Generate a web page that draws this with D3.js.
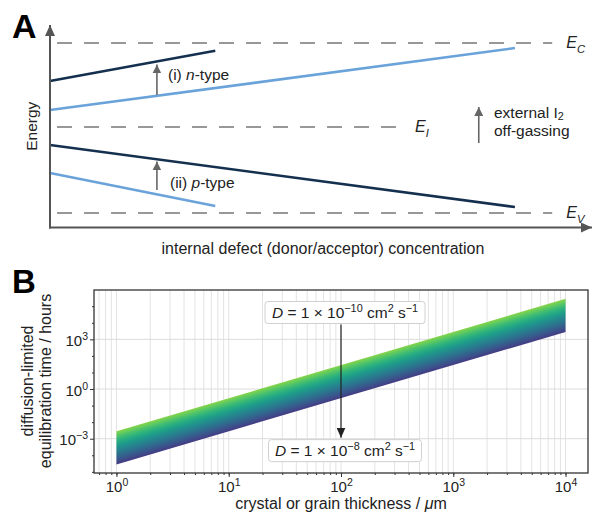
<!DOCTYPE html>
<html>
<head>
<meta charset="utf-8">
<script src="https://cdn.jsdelivr.net/npm/d3@7"></script>
<style>
  html, body { margin: 0; padding: 0; background: #fff; }
  svg { display: block; font-family: "Liberation Sans", Arial, Helvetica, sans-serif; }
</style>
</head>
<body>
<svg id="chart" width="594" height="514"></svg>
<script>
// ---- panel A : schematic band diagram (arbitrary units 0..100) ----
const levelNames = ["C", "I", "V"];
const levelEnergy = [91.1, 49.6, 7.2];
const levelLabelConc = [95.6, 67.6, 95.6];
const levelDashEnd = [93.0, 64.8, 93.0];
const dashStart = 1.3;

const lineNames = ["n-type dark", "n-type light", "p-type dark", "p-type light"];
const lineConcStart = [0, 0, 0, 0];
const lineConcEnd = [30.6, 86.1, 86.1, 30.6];
const lineEnergyStart = [72.3, 58.0, 40.7, 26.9];
const lineEnergyEnd = [87.3, 88.6, 10.1, 10.6];
const lineColor = ["#15304f", "#6aa3da", "#15304f", "#6aa3da"];

// ---- panel B : equilibration time vs thickness ----
const thickness = [1, 10000]; // µm
const timeSlowD = [2.8e-3, 2.8e5]; // hours, D = 1e-10 cm2/s
const timeFastD = [2.8e-5, 2.8e3]; // hours, D = 1e-8 cm2/s
const xTicksB = [1, 10, 100, 1000, 10000];
const yTicksB = [1e-3, 1, 1e3];
const yMinorB = [1e-5, 1e-4, 1e-2, 1e-1, 10, 100, 1e4, 1e5];

const FS = 15.5; // main text size

const svg = d3.select("#chart");
const defs = svg.append("defs");

function marker(id, color, w, l) {
  defs.append("marker")
    .attr("id", id)
    .attr("viewBox", `0 0 ${l} ${w}`)
    .attr("refX", l).attr("refY", w / 2)
    .attr("markerUnits", "userSpaceOnUse")
    .attr("markerWidth", l).attr("markerHeight", w)
    .attr("orient", "auto")
    .append("path")
    .attr("d", `M0,0 L${l},${w / 2} L0,${w} Z`)
    .attr("fill", color);
}
marker("headAxis", "#555", 10, 11);
marker("headGray", "#666", 9, 9);
marker("headBlack", "#222", 9, 10);

// append text with superscript / subscript parts: parts = [[text, "n"|"sup"|"sub"|"it"], ...]
function richText(sel, parts, size, subShift = 0.3) {
  let shift = 0;
  parts.forEach(([t, kind]) => {
    const ts = sel.append("tspan").text(t);
    let target = 0;
    if (kind === "sup") target = -size * 0.4;
    if (kind === "sub") target = size * subShift;
    ts.attr("dy", target - shift);
    shift = target;
    if (kind === "sup" || kind === "sub") ts.attr("font-size", size * 0.7);
    if (kind === "it") ts.attr("font-style", "italic");
  });
}

// ================= PANEL A =================
const xA = d3.scaleLinear().domain([0, 100]).range([50, 590]);
const yA = d3.scaleLinear().domain([0, 100]).range([227.5, 25]);
const gA = svg.append("g");

svg.append("text").attr("x", 12).attr("y", 38)
  .attr("font-size", 34).attr("font-weight", "bold").text("A");

// dashed band levels
levelNames.forEach((name, i) => {
  gA.append("line")
    .attr("x1", xA(dashStart)).attr("x2", xA(levelDashEnd[i]))
    .attr("y1", yA(levelEnergy[i])).attr("y2", yA(levelEnergy[i]))
    .attr("stroke", "#777").attr("stroke-width", 1.5)
    .attr("stroke-dasharray", "15,12");
  const t = gA.append("text")
    .attr("x", xA(levelLabelConc[i])).attr("y", yA(levelEnergy[i]) + 5)
    .attr("font-size", 16).attr("fill", "#222");
  richText(t, [["E", "it"], [name, "sub"]], 16);
  t.select("tspan:last-child").attr("font-style", "italic");
});

// level lines
const lineGen = d3.line().x((d) => xA(d[0])).y((d) => yA(d[1]));
lineNames.forEach((name, i) => {
  gA.append("path")
    .datum([[lineConcStart[i], lineEnergyStart[i]], [lineConcEnd[i], lineEnergyEnd[i]]])
    .attr("d", lineGen)
    .attr("fill", "none")
    .attr("stroke", lineColor[i])
    .attr("stroke-width", 2.6);
});

// axes with arrow heads
gA.append("line")
  .attr("x1", xA(0)).attr("x2", xA(0))
  .attr("y1", yA(0) + 1).attr("y2", yA(100))
  .attr("stroke", "#555").attr("stroke-width", 2)
  .attr("marker-end", "url(#headAxis)");
gA.append("line")
  .attr("x1", xA(0) - 1).attr("x2", xA(100) + 2)
  .attr("y1", yA(0)).attr("y2", yA(0))
  .attr("stroke", "#555").attr("stroke-width", 2)
  .attr("marker-end", "url(#headAxis)");

// shift arrows
const arrowsA = [
  { conc: 19.8, from: 65.4, to: 80.5 },
  { conc: 19.8, from: 18.5, to: 32.6 },
  { conc: 79.4, from: 41.7, to: 59.5 }
];
arrowsA.forEach((a) => {
  gA.append("line")
    .attr("x1", xA(a.conc)).attr("x2", xA(a.conc))
    .attr("y1", yA(a.from)).attr("y2", yA(a.to))
    .attr("stroke", "#666").attr("stroke-width", 1.6)
    .attr("marker-end", "url(#headGray)");
});

const tn = gA.append("text").attr("x", 168).attr("y", 80).attr("font-size", FS).attr("fill", "#222");
richText(tn, [["(i) ", "n"], ["n", "it"], ["-type", "n"]], FS);
const tp = gA.append("text").attr("x", 170).attr("y", 188).attr("font-size", FS).attr("fill", "#222");
richText(tp, [["(ii) ", "n"], ["p", "it"], ["-type", "n"]], FS);
const te = gA.append("text").attr("x", 494).attr("y", 118).attr("font-size", FS).attr("fill", "#222");
richText(te, [["external I", "n"], ["2", "sub"]], FS, 0.15);
gA.append("text").attr("x", 494).attr("y", 136).attr("font-size", FS).attr("fill", "#222")
  .text("off-gassing");

gA.append("text")
  .attr("transform", `translate(37,${yA(50)}) rotate(-90)`)
  .attr("text-anchor", "middle").attr("font-size", FS).attr("fill", "#222")
  .text("Energy");
gA.append("text")
  .attr("x", 323).attr("y", 254)
  .attr("text-anchor", "middle").attr("font-size", 16).attr("fill", "#222")
  .text("internal defect (donor/acceptor) concentration");

// ================= PANEL B =================
const xB = d3.scaleLog().domain([Math.pow(10, -0.2), Math.pow(10, 4.2)]).range([94, 588]);
const yB = d3.scaleLog().domain([Math.pow(10, -5.07), Math.pow(10, 5.98)]).range([473, 290]);
const gB = svg.append("g");

svg.append("text").attr("x", 12).attr("y", 293)
  .attr("font-size", 33).attr("font-weight", "bold").text("B");

// grid
gB.append("g").selectAll("line")
  .data(xB.ticks())
  .join("line")
  .attr("x1", (d) => xB(d)).attr("x2", (d) => xB(d))
  .attr("y1", 290).attr("y2", 473)
  .attr("stroke", "#e3e3e3").attr("stroke-width", 1);
gB.append("g").selectAll("line")
  .data(yTicksB)
  .join("line")
  .attr("x1", 94).attr("x2", 588)
  .attr("y1", (d) => yB(d)).attr("y2", (d) => yB(d))
  .attr("stroke", "#dcdcdc").attr("stroke-width", 1);

// band, coloured perpendicular to the lines
const p0 = [xB(thickness[0]), yB(timeFastD[0])];
const p1 = [xB(thickness[1]), yB(timeFastD[1])];
const h = yB(timeFastD[0]) - yB(timeSlowD[0]);
const dx = p1[0] - p0[0], dy = p1[1] - p0[1];
const len = Math.hypot(dx, dy);
const nu = [dy / len, -dx / len];
const dist = (h * dx) / len;
const grad = defs.append("linearGradient")
  .attr("id", "bandGrad")
  .attr("gradientUnits", "userSpaceOnUse")
  .attr("x1", p0[0]).attr("y1", p0[1])
  .attr("x2", p0[0] + nu[0] * dist).attr("y2", p0[1] + nu[1] * dist);
grad.selectAll("stop")
  .data(d3.range(0, 1.0001, 0.1))
  .join("stop")
  .attr("offset", (d) => d)
  .attr("stop-color", (d) => d3.interpolateViridis(0.17 + d * 0.65));

const bandPts = thickness.map((t, i) => [xB(t), yB(timeSlowD[i])])
  .concat(thickness.map((t, i) => [xB(t), yB(timeFastD[i])]).reverse());
gB.append("path")
  .attr("d", "M" + bandPts.join("L") + "Z")
  .attr("fill", "url(#bandGrad)");

// frame
gB.append("rect")
  .attr("x", 94).attr("y", 290).attr("width", 494).attr("height", 183)
  .attr("fill", "none").attr("stroke", "#333").attr("stroke-width", 1.3);

// axes
const axX = gB.append("g").attr("transform", "translate(0,473)")
  .call(d3.axisBottom(xB).tickValues(xB.ticks()).tickSize(2).tickFormat(""));
axX.select(".domain").remove();
axX.selectAll("line").attr("stroke", "#333");
const axX2 = gB.append("g").attr("transform", "translate(0,473)")
  .call(d3.axisBottom(xB).tickValues(xTicksB).tickSize(4).tickPadding(3).tickFormat(""));
axX2.select(".domain").remove();
axX2.selectAll("line").attr("stroke", "#333");
axX2.selectAll(".tick").each(function (d) {
  const t = d3.select(this).append("text")
    .attr("y", 19).attr("text-anchor", "middle")
    .attr("font-size", 15).attr("fill", "#222");
  richText(t, [["10", "n"], [String(Math.round(Math.log10(d))), "sup"]], 15);
});

const axY = gB.append("g").attr("transform", "translate(94,0)")
  .call(d3.axisLeft(yB).tickValues(yMinorB).tickSize(2).tickFormat(""));
axY.select(".domain").remove();
axY.selectAll("line").attr("stroke", "#333");
const axY2 = gB.append("g").attr("transform", "translate(94,0)")
  .call(d3.axisLeft(yB).tickValues(yTicksB).tickSize(4).tickFormat(""));
axY2.select(".domain").remove();
axY2.selectAll("line").attr("stroke", "#333");
axY2.selectAll(".tick").each(function (d) {
  const t = d3.select(this).append("text")
    .attr("x", -6).attr("y", 6).attr("text-anchor", "end")
    .attr("font-size", 15).attr("fill", "#222");
  richText(t, [["10", "n"], [d < 1 ? "\u2212" + Math.round(-Math.log10(d)) : String(Math.round(Math.log10(d))), "sup"]], 15);
});

// axis labels
gB.append("text")
  .attr("x", 341).attr("y", 509)
  .attr("text-anchor", "middle").attr("font-size", 16).attr("fill", "#222")
  .call((t) => richText(t, [["crystal or grain thickness / ", "n"], ["\u03bc", "it"], ["m", "n"]], 16));
gB.append("text")
  .attr("transform", "translate(33,381) rotate(-90)")
  .attr("text-anchor", "middle").attr("font-size", 16).attr("fill", "#222")
  .text("diffusion-limited");
gB.append("text")
  .attr("transform", "translate(51,381) rotate(-90)")
  .attr("text-anchor", "middle").attr("font-size", 16).attr("fill", "#222")
  .text("equilibration time / hours");

// D annotations
const annot = [
  { exp: "\u221210", y: Math.pow(10, 4.62), w: 160 },
  { exp: "\u22128", y: Math.pow(10, -3.72), w: 153 }
];
annot.forEach((a) => {
  const cx = xB(100) + 4;
  const cy = yB(a.y);
  gB.append("rect")
    .attr("x", cx - a.w / 2).attr("y", cy - 11)
    .attr("width", a.w).attr("height", 22).attr("rx", 3)
    .attr("fill", "#fff").attr("stroke", "#d0d0d0").attr("stroke-width", 1);
  const t = gB.append("text")
    .attr("x", cx).attr("y", cy + 5.5)
    .attr("text-anchor", "middle").attr("font-size", 15.5).attr("fill", "#222");
  richText(t, [["D", "it"], [" = 1 \u00d7 10", "n"], [a.exp, "sup"], [" cm", "n"], ["2", "sup"], [" s", "n"], ["\u22121", "sup"]], 15.5);
});

gB.append("line")
  .attr("x1", xB(100)).attr("x2", xB(100))
  .attr("y1", yB(annot[0].y) + 12).attr("y2", yB(annot[1].y) - 13)
  .attr("stroke", "#222").attr("stroke-width", 1.2)
  .attr("marker-end", "url(#headBlack)");
</script>
</body>
</html>
